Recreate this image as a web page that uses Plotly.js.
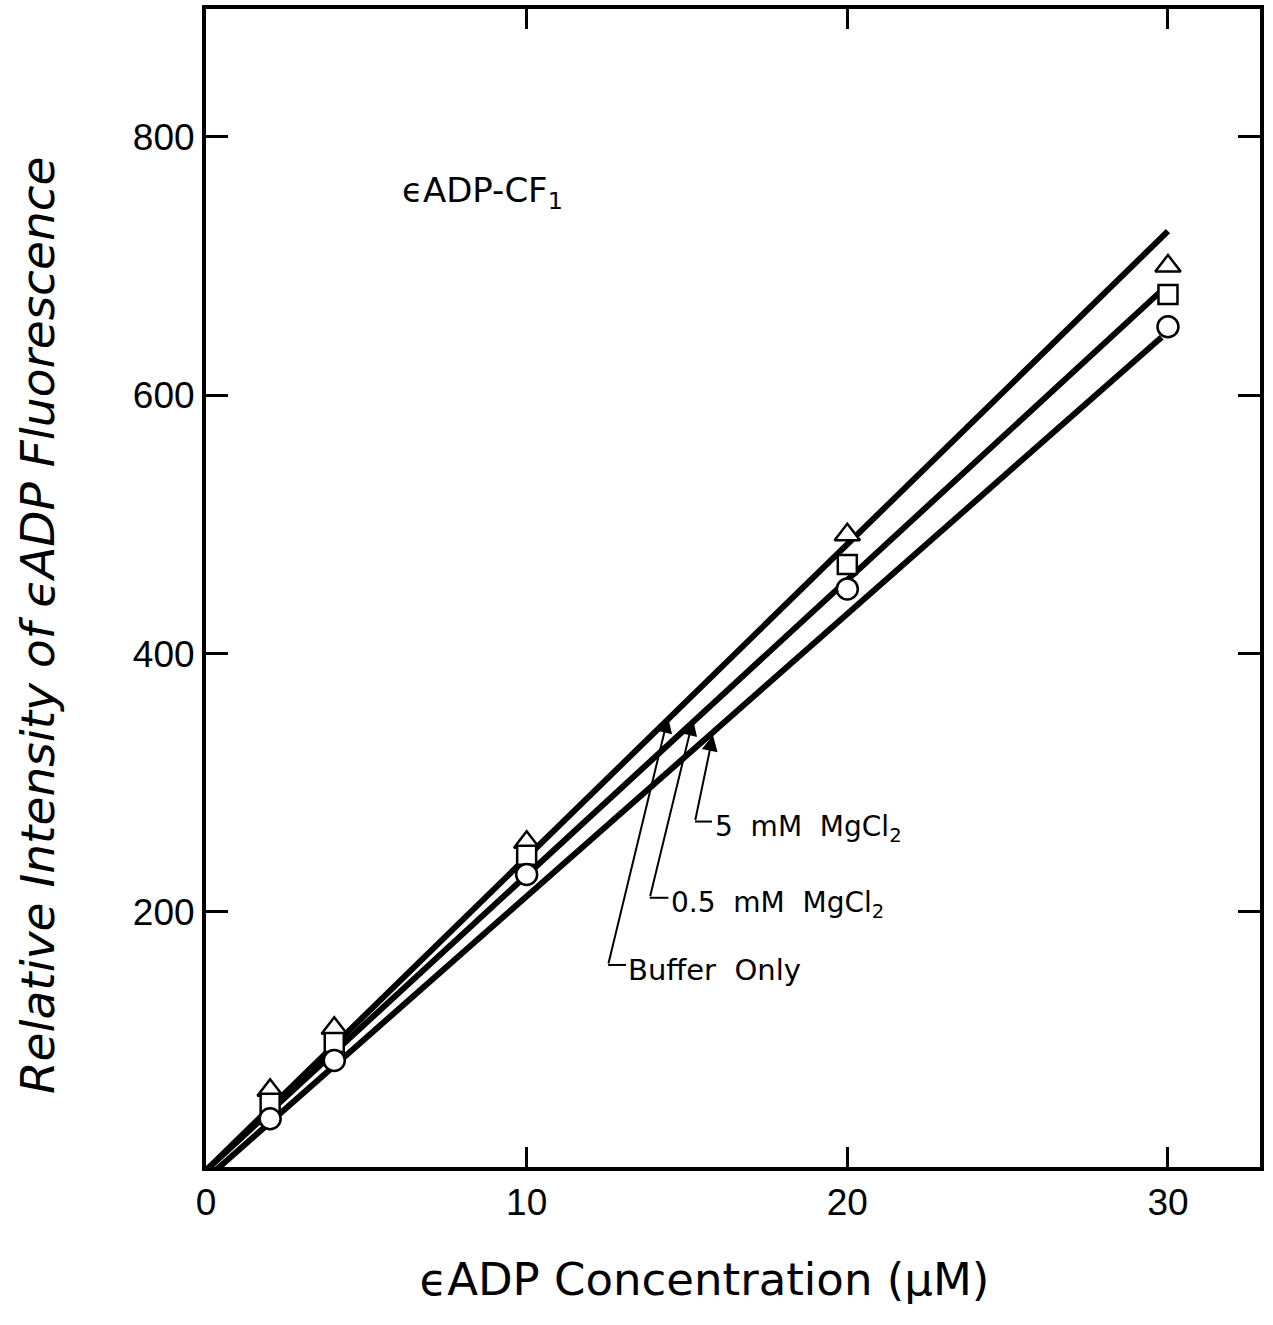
<!DOCTYPE html>
<html>
<head>
<meta charset="utf-8">
<script src="https://cdn.plot.ly/plotly-3.0.1.min.js"></script>
<style>html,body{margin:0;padding:0;background:#fff;}#chart{width:1273px;height:1325px;}</style>
</head>
<body>
<div id="chart"></div>
<script>
// Data
const concentration = [2, 4, 10, 20, 30];
const bufferOnly = [62, 110, 254, 492, 700];     // triangles
const mg05 = [52, 99, 244, 469, 678];            // squares
const mg5 = [40, 85, 229, 450, 653];             // circles

// fitted lines (start/end)
const bufferLineX = [0, 30];
const bufferLineY = [0, 727];
const mg05LineX = [0, 29.8];
const mg05LineY = [0, 681];
const mg5LineX = [0.3, 29.8];
const mg5LineY = [0, 645];

const xTicks = [0, 10, 20, 30];
const yTicks = [200, 400, 600, 800];

const FONT = "Liberation Sans, Arial, sans-serif";
const WIDE = "DejaVu Sans, sans-serif";
const NB = '\u00A0';

function lineTrace(x, y) {
  return {x: x, y: y, mode: 'lines', type: 'scatter',
    line: {color: 'black', width: 6}, showlegend: false, hoverinfo: 'skip'};
}
function markerTrace(y, sym, size) {
  return {x: concentration, y: y, mode: 'markers', type: 'scatter',
    marker: {symbol: sym, size: size, color: 'white', line: {color: 'black', width: 2.5}},
    showlegend: false};
}

const data = [
  lineTrace(bufferLineX, bufferLineY),
  lineTrace(mg05LineX, mg05LineY),
  lineTrace(mg5LineX, mg5LineY),
  markerTrace(bufferOnly, 'triangle-up', 22),
  markerTrace(mg05, 'square', 19),
  markerTrace(mg5, 'circle', 21)
];

const labelFont = {family: WIDE, size: 28, color: 'black'};
const arrowStyle = {showarrow: true, arrowhead: 2, arrowsize: 1.6, arrowwidth: 2, arrowcolor: 'black', text: ''};

const annotations = [
  {x: 6.05, y: 757, xref: 'x', yref: 'y', xanchor: 'left', yanchor: 'middle', showarrow: false,
   text: 'ϵADP-CF<sub>1</sub>', font: {family: WIDE, size: 34, color: 'black'}},
  // 5 mM MgCl2
  Object.assign({x: 15.81, y: 337, ax: 15.25, ay: 270, xref: 'x', yref: 'y', axref: 'x', ayref: 'y'}, arrowStyle),
  {x: 15.8, y: 265, xref: 'x', yref: 'y', xanchor: 'left', yanchor: 'middle', showarrow: false,
   text: '5' + NB + NB + 'mM' + NB + NB + 'MgCl<sub>2</sub>', font: labelFont},
  // 0.5 mM MgCl2
  Object.assign({x: 15.19, y: 349, ax: 13.84, ay: 211, xref: 'x', yref: 'y', axref: 'x', ayref: 'y'}, arrowStyle),
  {x: 14.45, y: 206, xref: 'x', yref: 'y', xanchor: 'left', yanchor: 'middle', showarrow: false,
   text: '0.5' + NB + NB + 'mM' + NB + NB + 'MgCl<sub>2</sub>', font: labelFont},
  // Buffer only
  Object.assign({x: 14.41, y: 351, ax: 12.54, ay: 159, xref: 'x', yref: 'y', axref: 'x', ayref: 'y'}, arrowStyle),
  {x: 13.1, y: 155, xref: 'x', yref: 'y', xanchor: 'left', yanchor: 'middle', showarrow: false,
   text: 'Buffer' + NB + NB + 'Only', font: {family: WIDE, size: 29, color: 'black'}}
];

const stub = (x0, x1, y) => ({type: 'line', xref: 'x', yref: 'y', x0: x0, x1: x1, y0: y, y1: y,
  line: {color: 'black', width: 2}});

const layout = {
  width: 1273, height: 1325,
  margin: {l: 206, r: 13, t: 9, b: 158},
  paper_bgcolor: 'white', plot_bgcolor: 'white',
  font: {family: FONT, color: 'black'},
  showlegend: false,
  xaxis: {
    range: [0, 32.87], tickvals: xTicks, ticktext: xTicks.map(String),
    ticks: 'inside', ticklen: 20, tickwidth: 3, tickcolor: 'black',
    showline: true, linewidth: 4, linecolor: 'black', mirror: 'ticks',
    showgrid: false, zeroline: false,
    tickfont: {family: FONT, size: 37, color: 'black'},
    title: {text: '<span>ϵADP Concentration (μM)' + NB.repeat(4) + '</span>', font: {family: WIDE, size: 45, color: 'black'}, standoff: 42}
  },
  yaxis: {
    range: [2.6, 899], tickvals: yTicks, ticktext: yTicks.map(String),
    ticks: 'inside', ticklen: 22, tickwidth: 3, tickcolor: 'black',
    showline: true, linewidth: 4, linecolor: 'black', mirror: 'ticks',
    showgrid: false, zeroline: false,
    tickfont: {family: FONT, size: 37, color: 'black'},
    title: {text: '<i>Relative Intensity of ϵADP Fluorescence' + NB.repeat(5) + '</i>', font: {family: WIDE, size: 47, color: 'black'}, standoff: 64}
  },
  annotations: annotations,
  shapes: [stub(15.25, 15.78, 270), stub(13.84, 14.42, 211), stub(12.54, 13.1, 159)]
};

Plotly.newPlot('chart', data, layout, {displayModeBar: false, staticPlot: true});
</script>
</body>
</html>
